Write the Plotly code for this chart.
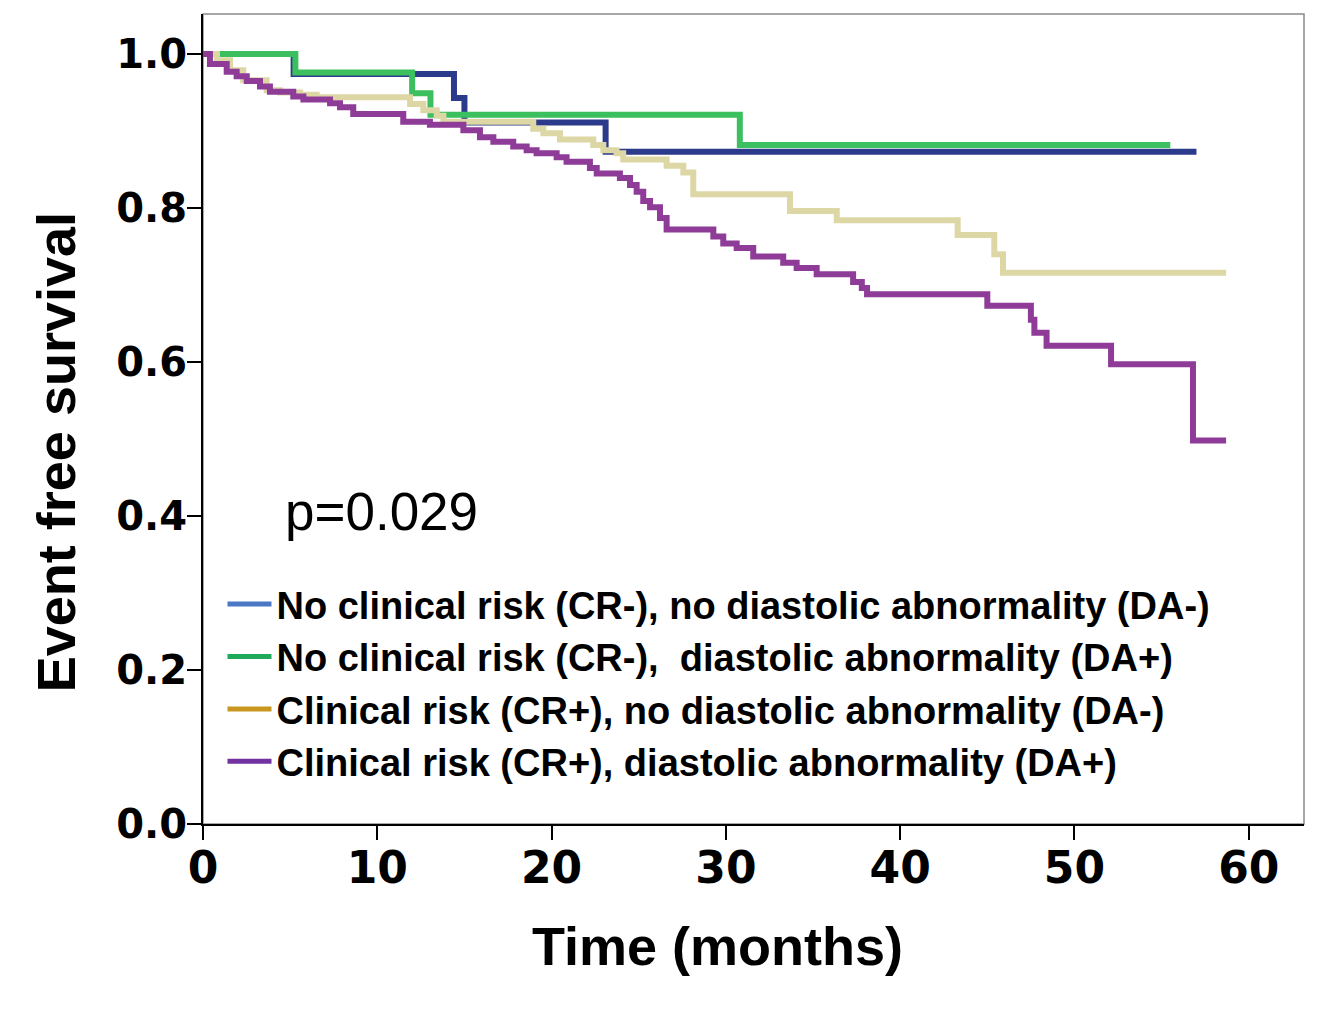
import plotly.graph_objects as go

# ---- Data ----
legend_labels = [
    "No clinical risk (CR-), no diastolic abnormality (DA-)",
    "No clinical risk (CR-),  diastolic abnormality (DA+)",
    "Clinical risk (CR+), no diastolic abnormality (DA-)",
    "Clinical risk (CR+), diastolic abnormality (DA+)",
]

# CR-, DA-
t_crm_dam = [0, 5.2, 14.4, 15.0, 23.1, 57.0]
s_crm_dam = [1.0, 0.974, 0.943, 0.911, 0.873, 0.873]

# CR-, DA+
t_crm_dap = [0, 5.3, 12.0, 13.05, 30.8, 55.5]
s_crm_dap = [1.0, 0.976, 0.949, 0.921, 0.882, 0.882]

# CR+, DA-
t_crp_dam = [0, 0.8, 1.55, 2.31, 3.65, 4.42, 5.57, 6.52, 11.88, 12.64, 13.41, 13.79,
             18.95, 19.53, 20.48, 22.39, 22.97, 23.73, 24.11, 26.6, 27.56, 28.13,
             33.68, 36.36, 43.3, 45.4, 45.9, 58.7]
s_crp_dam = [1.0, 0.992, 0.979, 0.966, 0.953, 0.950, 0.947, 0.944, 0.935, 0.927, 0.920, 0.912,
             0.903, 0.897, 0.889, 0.882, 0.875, 0.871, 0.863, 0.855, 0.846, 0.818,
             0.796, 0.784, 0.765, 0.740, 0.716, 0.716]

# CR+, DA+
t_crp_dap = [0, 0.4, 1.36, 1.93, 2.51, 3.27, 3.84, 5.18, 5.76, 7.29, 7.86, 8.62, 11.49,
             13.02, 14.94, 15.89, 16.66, 17.80, 18.57, 19.14, 20.29, 20.86, 22.20, 22.59,
             23.92, 24.50, 24.88, 25.26, 25.65, 26.22, 26.60, 29.28, 29.85, 30.62, 31.57,
             33.29, 34.06, 35.21, 37.3, 37.8, 38.1, 45.0, 47.5, 47.7, 48.4, 52.1, 56.8, 58.7]
s_crp_dap = [1.0, 0.987, 0.977, 0.971, 0.965, 0.958, 0.951, 0.945, 0.941, 0.936, 0.931, 0.922, 0.912,
             0.908, 0.901, 0.892, 0.886, 0.880, 0.875, 0.871, 0.866, 0.860, 0.852, 0.845,
             0.839, 0.830, 0.821, 0.809, 0.801, 0.787, 0.772, 0.763, 0.754, 0.748, 0.737,
             0.729, 0.722, 0.714, 0.704, 0.696, 0.688, 0.673, 0.655, 0.638, 0.621, 0.597, 0.498, 0.498]

x_ticks = [0, 10, 20, 30, 40, 50, 60]
y_ticks = [0.0, 0.2, 0.4, 0.6, 0.8, 1.0]
p_text = "p=0.029"
x_title = "Time (months)"
y_title = "Event free survival"

# ---- Styles ----
line_colors = ["#2B3A8A", "#3CBF5E", "#DDD7A6", "#8F3C98"]
legend_colors = ["#4A78C4", "#1FA95B", "#C9971F", "#7232A0"]
arial = "Liberation Sans, Arial"

series = [
    (t_crm_dam, s_crm_dam),
    (t_crm_dap, s_crm_dap),
    (t_crp_dam, s_crp_dam),
    (t_crp_dap, s_crp_dap),
]

fig = go.Figure()
for (t, s), c in zip(series, line_colors):
    fig.add_trace(go.Scatter(
        x=t, y=s, mode="lines", line=dict(color=c, width=6, shape="hv"),
        showlegend=False, hoverinfo="skip",
    ))

# legend entries (swatch colours differ from curves in the reference)
for lab, c in zip(legend_labels, legend_colors):
    fig.add_trace(go.Scatter(
        x=[None], y=[None], mode="lines", name=lab,
        line=dict(color=c, width=5),
    ))

fig.add_annotation(
    x=0.0727, y=0.386, xref="paper", yref="paper", text=p_text, showarrow=False,
    xanchor="left", yanchor="middle",
    font=dict(family=arial, size=53, color="black"),
)
fig.add_annotation(
    x=-0.1335, y=0.459, xref="paper", yref="paper", text=y_title, showarrow=False,
    textangle=-90, xanchor="center", yanchor="middle",
    font=dict(family=arial, size=54, color="black", weight="bold"),
)
fig.add_annotation(
    x=0.467, y=-0.1506, xref="paper", yref="paper", text=x_title, showarrow=False,
    xanchor="center", yanchor="middle",
    font=dict(family=arial, size=54, color="black", weight="bold"),
)

# grey top/right frame
fig.add_shape(type="rect", xref="paper", yref="paper", x0=0, y0=0, x1=1, y1=1,
              line=dict(color="#8a8a8a", width=1.5), layer="below")

fig.update_layout(
    width=1322, height=1014,
    margin=dict(l=195, r=26, t=6, b=198),
    paper_bgcolor="white", plot_bgcolor="white",
    showlegend=True,
    legend=dict(
        x=0.0177, y=0.31, xanchor="left", yanchor="top",
        bgcolor="rgba(0,0,0,0)", borderwidth=0,
        font=dict(family=arial, size=38, color="black", weight="bold"),
        tracegroupgap=0, itemwidth=44,
    ),
    xaxis=dict(
        range=[0, 63.17], tickmode="array", tickvals=x_ticks,
        ticks="outside", ticklen=14, tickwidth=2, tickcolor="black",
        ticklabelstandoff=-10,
        showline=True, linecolor="black", linewidth=2, showgrid=False, zeroline=False,
        tickfont=dict(family="DejaVu Sans", size=44, color="black", weight="bold"),
    ),
    yaxis=dict(
        range=[0, 1.052], tickmode="array", tickvals=y_ticks, tickformat=".1f",
        ticks="outside", ticklen=14, tickwidth=2, tickcolor="black",
        ticklabelstandoff=-8,
        showline=True, linecolor="black", linewidth=2, showgrid=False, zeroline=False,
        tickfont=dict(family="DejaVu Sans", size=40, color="black", weight="bold"),
    ),
)

fig.write_html("out.html")
